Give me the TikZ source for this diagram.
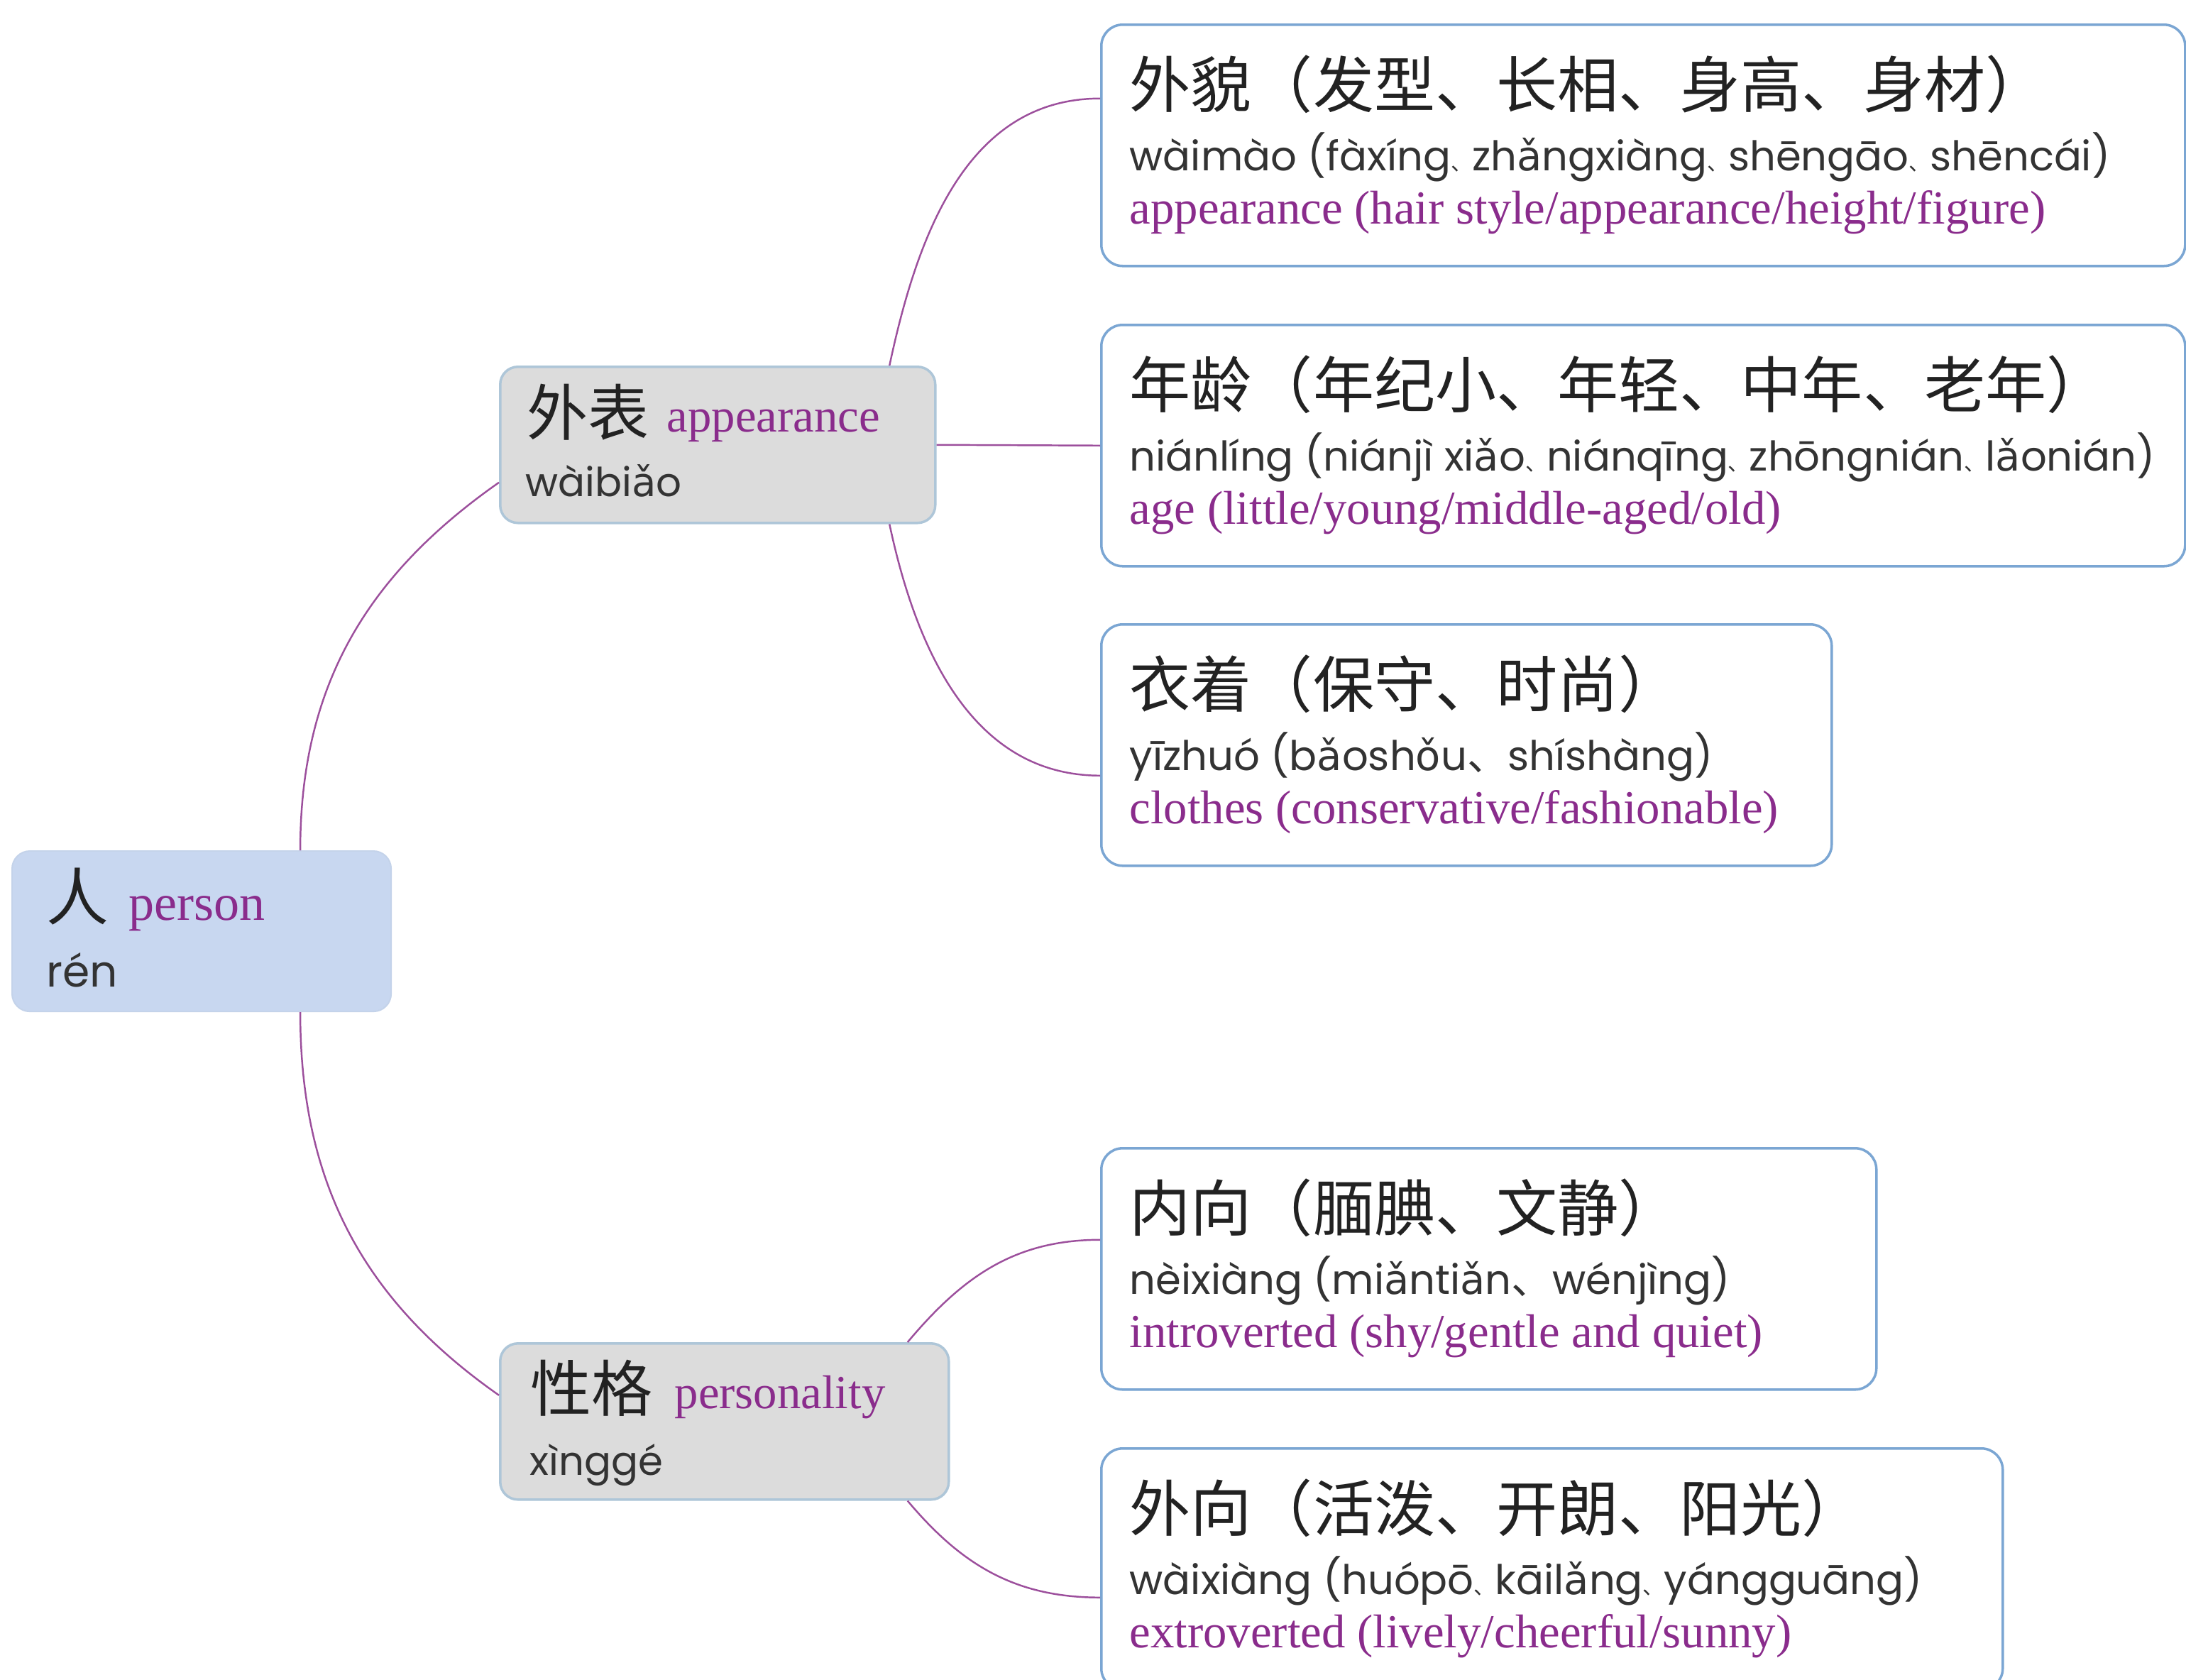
\documentclass[tikz,border=0pt]{standalone}
\usepackage{fontspec}
\setmainfont{Liberation Serif}
\newfontfamily\zhfont{Noto Sans CJK SC}
\newfontfamily\pyfont{Poppins}
\newfontfamily\pyalt{DejaVu Sans}

\definecolor{rootfill}{HTML}{C8D7F0}
\definecolor{midfill}{HTML}{DCDCDC}
\definecolor{midline}{HTML}{AEC6D8}
\definecolor{leafline}{HTML}{7BA6D3}
\definecolor{linkcol}{HTML}{9C4F9C}
\definecolor{encol}{HTML}{8A2C8C}
\definecolor{pycol}{HTML}{333333}
\definecolor{zhcol}{HTML}{222222}

% pinyin helpers: Poppins has no a/o with caron
\newcommand\cara{{\pyalt ǎ}}
\newcommand\caro{{\pyalt ǒ}}
\newcommand\dun{{\zhfont 、}}
\newcommand\dunc{{\zhfont\fontsize{8.5}{10}\selectfont 、}}
\newcommand\leaflines[4]{%
  \node[zhline] (#1-zh) at ([shift={(0.41,-1.18)}]#1.north west) {#2};
  \node[pyline] (#1-py) at ([shift={(0.41,-2.07)}]#1.north west) {#3};
  \node[enline] (#1-en) at ([shift={(0.41,-2.82)}]#1.north west) {#4};}

\tikzset{
  rootbox/.style={rounded corners=0.25cm, fill=rootfill, draw=rootfill!95!gray,
    line width=0.6pt, anchor=north west, inner sep=0pt},
  midbox/.style={rounded corners=0.25cm, fill=midfill, draw=midline, line width=1pt,
    anchor=north west, inner sep=0pt, minimum height=2.20cm},
  leafbox/.style={rounded corners=0.3cm, fill=white, draw=leafline, line width=1pt,
    anchor=north west, inner sep=0pt, minimum height=3.40cm},
  zhline/.style={font=\zhfont\fontsize{24.5}{29}\selectfont, text=zhcol, anchor=base west, inner sep=0pt},
  pyline/.style={font=\pyfont\fontsize{16.4}{20}\selectfont, text=pycol, anchor=base west, inner sep=0pt},
  enline/.style={font=\fontsize{19}{22}\selectfont, text=encol, anchor=base west, inner sep=0pt},
  link/.style={draw=linkcol, line width=0.7pt}
}

\begin{document}
\begin{tikzpicture}
    \useasboundingbox (0,0) rectangle (30.80,-23.66);
    \clip (0,0) rectangle (30.80,-23.66);

    % centre
    \node[rootbox, minimum width=5.34cm, minimum height=2.26cm] (ren) at (0.16,-11.98) {};
    \node[zhline, font=\zhfont\fontsize{25}{30}\selectfont] (ren-zh) at (0.65,-12.96) {人};
    \node[enline, font=\fontsize{20.5}{24}\selectfont] (ren-en) at (1.81,-12.96) {person};
    \node[pyline, font=\pyfont\fontsize{17.5}{21}\selectfont] (ren-py) at (0.65,-13.90) {rén};

    % branches
    \node[midbox, minimum width=6.13cm] (waibiao) at (7.03,-5.15) {};
    \node[zhline] (waibiao-zh) at (7.42,-6.13) {外表};
    \node[enline] (waibiao-en) at (9.39,-6.08) {appearance};
    \node[pyline, font=\pyfont\fontsize{16}{19}\selectfont] (waibiao-py) at (7.40,-6.99) {wàibi\cara o};

    \node[midbox, minimum width=6.32cm] (xingge) at (7.03,-18.91) {};
    \node[zhline] (xingge-zh) at (7.47,-19.88) {性格};
    \node[enline] (xingge-en) at (9.50,-19.84) {personality};
    \node[pyline, font=\pyfont\fontsize{16}{19}\selectfont] (xingge-py) at (7.46,-20.78) {xìnggé};

    % leaves
    \node[leafbox, minimum width=15.27cm] (waimao) at (15.50,-0.33) {};
    \leaflines{waimao}{外貌（发型、长相、身高、身材）}
      {wàimào (fàxíng\dunc zh\cara ngxiàng\dunc shēngāo\dunc shēncái)}
      {appearance (hair style/appearance/height/figure)}
    \node[leafbox, minimum width=15.27cm] (nianling) at (15.50,-4.56) {};
    \leaflines{nianling}{年龄（年纪小、年轻、中年、老年）}
      {niánlíng (niánjì xi\cara o\dunc niánqīng\dunc zhōngnián\dunc l\cara onián)}
      {age (little/young/middle-aged/old)}
    \node[leafbox, minimum width=10.29cm] (yizhuo) at (15.50,-8.78) {};
    \leaflines{yizhuo}{衣着（保守、时尚）}
      {yīzhuó (b\cara osh\caro u\dun shíshàng)}
      {clothes (conservative/fashionable)}
    \node[leafbox, minimum width=10.92cm] (neixiang) at (15.50,-16.16) {};
    \leaflines{neixiang}{内向（腼腆、文静）}
      {nèixiàng (mi\cara nti\cara n\dun wénjìng)}
      {introverted (shy/gentle and quiet)}
    \node[leafbox, minimum width=12.70cm] (waixiang) at (15.50,-20.39) {};
    \leaflines{waixiang}{外向（活泼、开朗、阳光）}
      {wàixiàng (huópō\dunc kāil\cara ng\dunc yángguāng)}
      {extroverted (lively/cheerful/sunny)}

    % links
    \draw[link] ([xshift=1.39cm]ren.north) to[out=90, in=215] ([yshift=-0.53cm]waibiao.west);
    \draw[link] ([xshift=1.39cm]ren.south) to[out=-90, in=145] ([yshift=0.37cm]xingge.west);
    \draw[link] ([xshift=2.42cm]waibiao.north) to[out=78, in=180] ([yshift=0.66cm]waimao.west);
    \draw[link] (waibiao.east) -- (nianling.west);
    \draw[link] ([xshift=2.42cm]waibiao.south) to[out=-78, in=180] ([yshift=-0.43cm]yizhuo.west);
    \draw[link] ([xshift=2.58cm]xingge.north) to[out=50, in=180] ([yshift=0.41cm]neixiang.west);
    \draw[link] ([xshift=2.58cm]xingge.south) to[out=-50, in=180] ([yshift=-0.40cm]waixiang.west);
\end{tikzpicture}
\end{document}
